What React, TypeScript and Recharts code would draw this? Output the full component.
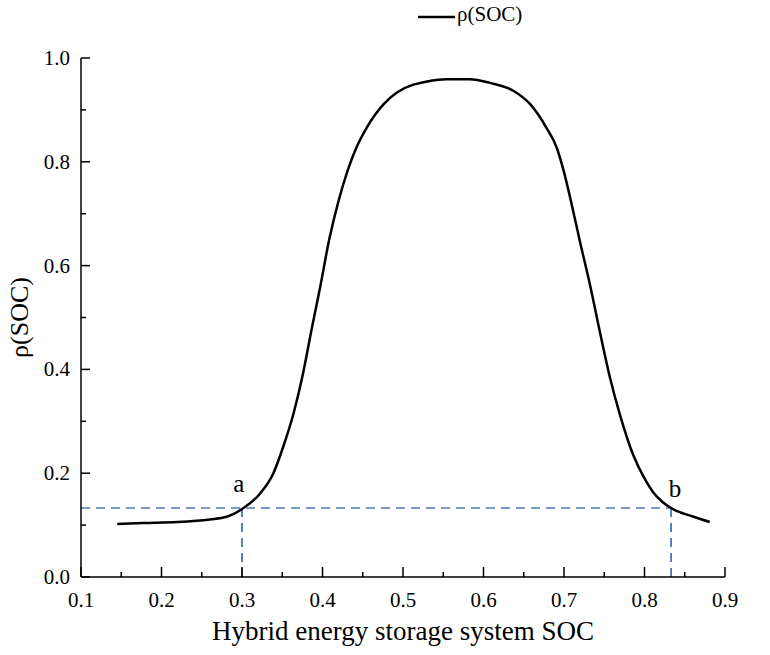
import { LineChart, Line, XAxis, YAxis, ReferenceLine, ReferenceDot, Label } from "recharts";

const socValues = [
  0.145, 0.177, 0.219, 0.26, 0.281, 0.301, 0.322, 0.339, 0.351, 0.364, 0.374, 0.387, 0.397,
  0.409, 0.42, 0.431, 0.442, 0.455, 0.476, 0.492, 0.534, 0.554, 0.583, 0.608, 0.637, 0.658,
  0.678, 0.691, 0.7, 0.71, 0.72, 0.732, 0.745, 0.757, 0.77, 0.786, 0.8, 0.811, 0.822, 0.834,
  0.861, 0.881,
];
const rhoValues = [
  0.102, 0.104, 0.106, 0.111, 0.116, 0.132, 0.16, 0.2, 0.25, 0.315, 0.379, 0.481, 0.558,
  0.655, 0.725, 0.782, 0.827, 0.866, 0.911, 0.933, 0.956, 0.959, 0.959, 0.952, 0.937, 0.911,
  0.866, 0.827, 0.78, 0.715, 0.645, 0.565, 0.469, 0.385, 0.31, 0.235, 0.19, 0.163, 0.145, 0.132,
  0.116, 0.106,
];

const xTicks = [0.1, 0.15, 0.2, 0.25, 0.3, 0.35, 0.4, 0.45, 0.5, 0.55, 0.6, 0.65, 0.7, 0.75, 0.8, 0.85, 0.9];
const yTicks = [0, 0.1, 0.2, 0.3, 0.4, 0.5, 0.6, 0.7, 0.8, 0.9, 1.0];

// threshold level and the two crossing points a, b
const threshold = 0.133;
const pointA = { x: 0.3, label: "a", lx: 0.296, ly: 0.181 };
const pointB = { x: 0.833, label: "b", lx: 0.838, ly: 0.172 };

const data = socValues.map((soc, i) => ({ soc, rho: rhoValues[i] }));

const FONT = '"Liberation Serif", "Times New Roman", serif';

function XTick({ x, y, payload }: any) {
  const v = payload.value as number;
  const major = Math.round(v * 100) % 10 === 0;
  return (
    <g>
      <line x1={x} y1={y} x2={x} y2={y - (major ? 10 : 5)} stroke="#000" strokeWidth={1.5} />
      {major && (
        <text x={x} y={y + 30} textAnchor="middle" fontSize={21} fontFamily={FONT} fill="#000">
          {v.toFixed(1)}
        </text>
      )}
    </g>
  );
}

function YTick({ x, y, payload }: any) {
  const v = payload.value as number;
  const major = Math.round(v * 10) % 2 === 0;
  return (
    <g>
      <line x1={x} y1={y} x2={x + (major ? 9 : 5)} y2={y} stroke="#000" strokeWidth={1.5} />
      {major && (
        <text x={x - 11} y={y} textAnchor="end" dominantBaseline="central" fontSize={21} fontFamily={FONT} fill="#000">
          {v.toFixed(1)}
        </text>
      )}
    </g>
  );
}

export default function App() {
  return (
    <div style={{ position: "absolute", left: 0, top: 0, width: 770, height: 655, background: "#fff" }}>
      <LineChart width={770} height={655} data={data} margin={{ top: 58, right: 45, bottom: 0, left: 0 }}>
        <XAxis
          dataKey="soc"
          type="number"
          domain={[0.1, 0.9]}
          ticks={xTicks}
          interval={0}
          height={78}
          tickSize={0}
          tickMargin={0}
          tickLine={false}
          tick={<XTick />}
          axisLine={{ stroke: "#000", strokeWidth: 1.5 }}
        >
          <Label
            content={({ viewBox }: any) => (
              <text
                x={viewBox.x + viewBox.width / 2}
                y={viewBox.y + 63}
                textAnchor="middle"
                fontSize={27}
                fontFamily={FONT}
                fill="#000"
              >
                Hybrid energy storage system SOC
              </text>
            )}
          />
        </XAxis>
        <YAxis
          type="number"
          domain={[0, 1]}
          ticks={yTicks}
          interval={0}
          width={81}
          tickSize={0}
          tickMargin={0}
          tickLine={false}
          tick={<YTick />}
          axisLine={{ stroke: "#000", strokeWidth: 1.5 }}
        >
          <Label
            content={({ viewBox }: any) => {
              const cx = viewBox.x + 28;
              const cy = viewBox.y + viewBox.height / 2;
              return (
                <text
                  x={cx}
                  y={cy}
                  transform={`rotate(-90, ${cx}, ${cy})`}
                  textAnchor="middle"
                  fontSize={26}
                  fontFamily={FONT}
                  fill="#000"
                >
                  ρ(SOC)
                </text>
              );
            }}
          />
        </YAxis>
        <ReferenceLine
          segment={[{ x: 0.1, y: threshold }, { x: pointB.x, y: threshold }]}
          stroke="#4a7cc0"
          strokeWidth={1.5}
          strokeDasharray="9 6"
        />
        <ReferenceLine
          segment={[{ x: pointA.x, y: 0 }, { x: pointA.x, y: threshold }]}
          stroke="#2a55b0"
          strokeWidth={1.5}
          strokeDasharray="9 6"
        />
        <ReferenceLine
          segment={[{ x: pointB.x, y: 0 }, { x: pointB.x, y: threshold }]}
          stroke="#2a55b0"
          strokeWidth={1.5}
          strokeDasharray="9 6"
        />
        <Line
          type="monotone"
          dataKey="rho"
          stroke="#000"
          strokeWidth={2.5}
          dot={false}
          isAnimationActive={false}
        />
        {[pointA, pointB].map((p) => (
          <ReferenceDot
            key={p.label}
            x={p.lx}
            y={p.ly}
            r={1}
            fill="none"
            stroke="none"
            label={{ value: p.label, position: "center", fontSize: 25, fontFamily: FONT, fill: "#000" }}
          />
        ))}
      </LineChart>
      <div
        style={{
          position: "absolute",
          top: 2,
          left: 418,
          display: "flex",
          alignItems: "center",
          fontFamily: FONT,
          fontSize: 21,
          color: "#000",
        }}
      >
        <svg width={37} height={20}>
          <line x1={0} y1={12} x2={37} y2={12} stroke="#000" strokeWidth={2.5} />
        </svg>
        <span style={{ marginLeft: 2 }}>ρ(SOC)</span>
      </div>
    </div>
  );
}
